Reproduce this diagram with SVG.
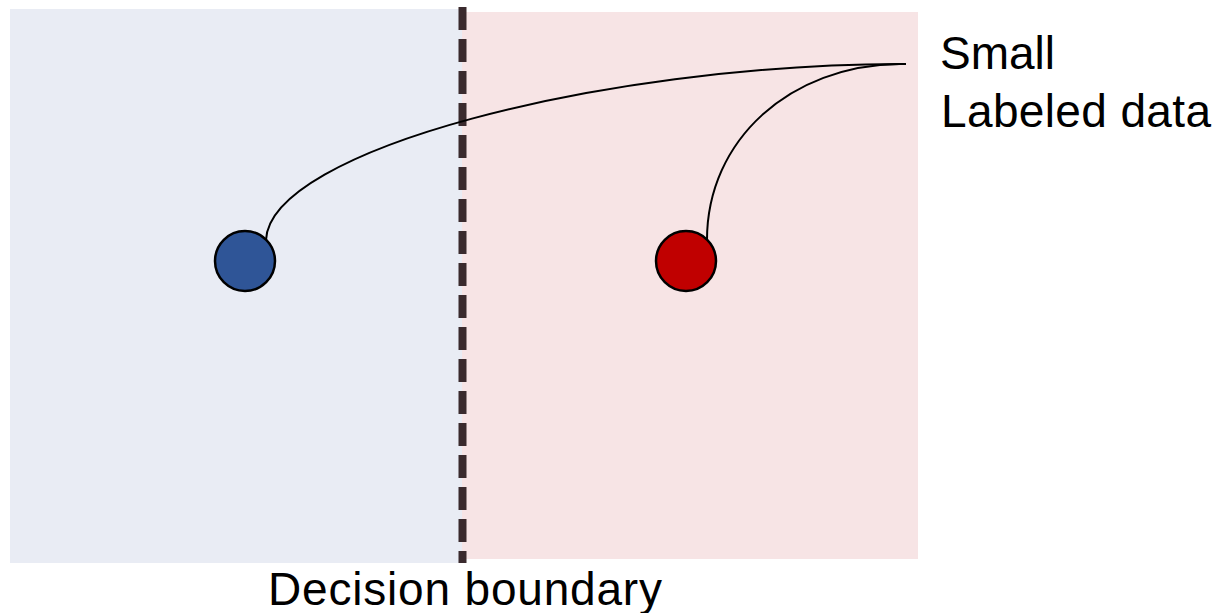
<svg xmlns="http://www.w3.org/2000/svg" width="1223" height="613" viewBox="0 0 1223 613">
<style>
.lbl{font-family:"Liberation Sans",Arial,sans-serif;font-size:46px;fill:#000}
.pt{stroke:#000;stroke-width:2.5}
.conn{fill:none;stroke:#000;stroke-width:2}
</style>
<rect width="1223" height="613" fill="#fff"/>
<g id="region-blue"><rect x="10" y="9" width="452" height="554" fill="#e9ecf4"/></g>
<g id="region-red"><rect x="462" y="12" width="456" height="547" fill="#f7e4e5"/></g>
<g id="boundary"><line x1="462.5" y1="7" x2="462.5" y2="563" stroke="#3a2a2d" stroke-width="8" stroke-dasharray="23 9"/></g>
<g id="connectors">
<path class="conn" d="M266 240 C270 150 600 65 900 64 L906 64"/>
<path class="conn" d="M707 240 C707 140 790 65 900 64"/>
</g>
<g id="blue-point"><circle class="pt" cx="245" cy="261" r="30" fill="#2f5597"/></g>
<g id="red-point"><circle class="pt" cx="686" cy="261" r="30" fill="#c00000"/></g>
<g id="label-small"><text class="lbl" x="940" y="69">Small</text><text class="lbl" x="941" y="127" textLength="270">Labeled data</text></g>
<g id="label-boundary"><text class="lbl" x="268" y="605" textLength="394">Decision boundary</text></g>
</svg>
